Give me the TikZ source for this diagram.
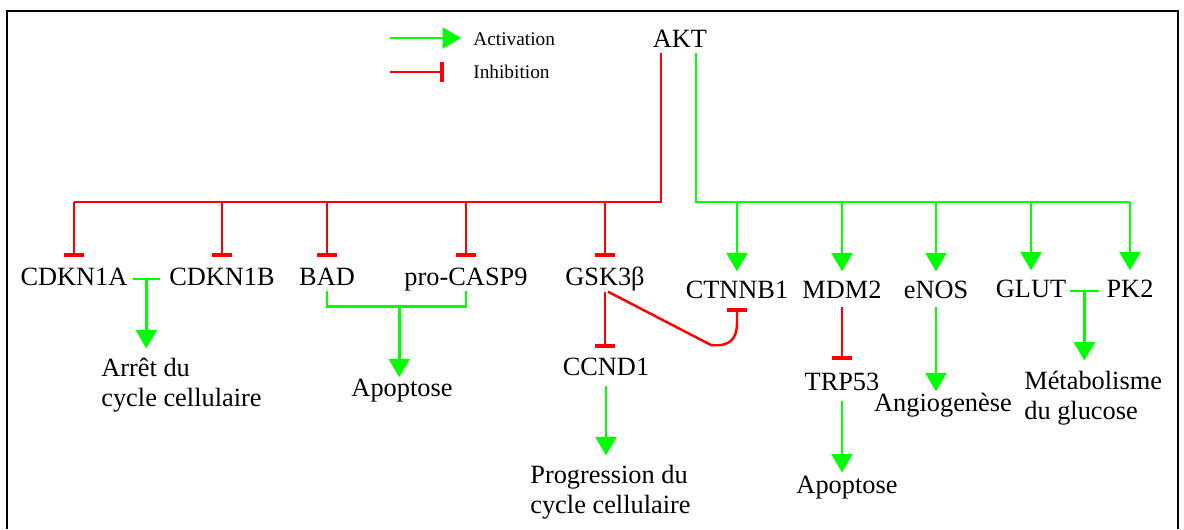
\documentclass[tikz,border=0pt]{standalone}
\usepackage{fontspec}
\setmainfont{Liberation Serif}
\usepackage{xcolor}
\definecolor{actgreen}{RGB}{0,255,0}
\definecolor{inhred}{RGB}{255,0,0}
\usepackage{tikz}
\usetikzlibrary{arrows.meta, positioning, calc}
\tikzset{
  gene/.style={font=\fontsize{15}{17}\selectfont, inner sep=0pt,
    text height=10pt, text depth=3pt, anchor=base},
  outcome/.style={font=\fontsize{15}{17}\selectfont, inner sep=0pt,
    align=left, anchor=north west},
  legtext/.style={font=\fontsize{11}{13}\selectfont, inner sep=0pt, anchor=west},
  grline/.style={draw=actgreen, line width=1.4pt},
  rdline/.style={draw=inhred, line width=1.4pt},
  act/.style={grline, -{Triangle[length=10.5pt, width=12pt]}, shorten >=5pt},
  inh/.style={rdline, -{Bar[width=11pt, line width=2.2pt]}, shorten >=6pt}
}

\begin{document}
\begin{tikzpicture}[x=0.02cm, y=-0.02cm]
  \useasboundingbox (0,0) rectangle (1184,529);
  \draw[line width=1.5pt] (7,529) -- (7,11) -- (1178,11) -- (1178,529);

  % legend
  \coordinate (actfrom) at (390,38);
  \coordinate (actto) at (461,38);
  \coordinate (inhfrom) at (390,72);
  \coordinate (inhto) at (444,72);
  \draw[act, shorten >=0pt] (actfrom) -- (actto);
  \draw[inh, shorten >=0pt] (inhfrom) -- (inhto);
  \node[legtext] (actlab) at (473,39) {Activation};
  \node[legtext] (inhlab) at (473,72) {Inhibition};

  % genes
  \node[gene] (akt) at (680,47) {AKT};
  \node[gene] (cdkn1a) at (74,285) {CDKN1A};
  \node[gene] (cdkn1b) at (222,285) {CDKN1B};
  \node[gene] (bad) at (327,285) {BAD};
  \node[gene] (casp9) at (466,285) {pro-CASP9};
  \node[gene] (gsk3b) at (605,285) {GSK3β};
  \node[gene] (ctnnb1) at (737,298) {CTNNB1};
  \node[gene] (mdm2) at (842,298) {MDM2};
  \node[gene] (enos) at (936,298) {eNOS};
  \node[gene] (glut) at (1031,297) {GLUT};
  \node[gene] (pk2) at (1130,297) {PK2};
  \node[gene] (ccnd1) at (606,375) {CCND1};
  \node[gene] (trp53) at (842,390) {TRP53};

  % outcomes
  \node[outcome] (arret) at (101,358) {Arrêt du\\cycle cellulaire};
  \node[gene] (apop1) at (402,396) {Apoptose};
  \node[outcome] (prog) at (530,465) {Progression du\\cycle cellulaire};
  \node[gene] (apop2) at (847,493) {Apoptose};
  \node[gene] (angio) at (943,411) {Angiogenèse};
  \node[outcome] (metab) at (1024,371) {Métabolisme\\du glucose};

  % AKT buses
  \coordinate (rbus) at (661,202);
  \coordinate (gbus) at (696,202);
  \draw[rdline] (akt.south -| rbus) -- (rbus) -- (cdkn1a |- rbus);
  \draw[grline] (akt.south -| gbus) -- (gbus) -- (pk2 |- gbus);
  \foreach \g in {cdkn1a,cdkn1b,bad,casp9,gsk3b}
    \draw[inh] (\g |- rbus) -- (\g.north);
  \foreach \g in {ctnnb1,mdm2,enos,glut,pk2}
    \draw[act] (\g |- gbus) -- (\g.north);

  % CDKN1A / CDKN1B
  \coordinate (cdkj) at ($(cdkn1a.east)!0.45!(cdkn1b.west)$);
  \draw[grline, shorten <=3pt, shorten >=5pt] (cdkn1a.east) -- (cdkn1b.west);
  \draw[act, shorten >=5.5pt] (cdkj) -- (cdkj |- arret.north);

  % BAD / pro-CASP9
  \coordinate (apj) at ($(bad.south)!0.52!(casp9.south)+(0,16)$);
  \draw[grline] (bad.south) |- (apj) -| (casp9.south);
  \draw[act, shorten >=0.5pt] (apj) -- (apj |- apop1.north);

  % GSK3b
  \draw[inh, shorten <=1pt, shorten >=5pt] (gsk3b.south) -- (gsk3b.south |- ccnd1.north);
  \draw[inh, shorten >=2.3pt] ($(gsk3b.south)+(3,1)$) -- (711,345)
    .. controls (731,347) and (737,338) .. ($(ctnnb1.south)+(0,19)$)
    -- (ctnnb1.south);
  \draw[act, shorten <=3pt, shorten >=5.5pt] (ccnd1.south) -- (ccnd1.south |- prog.north);

  % MDM2 / TRP53
  \draw[inh, shorten <=2pt, shorten >=7pt] (mdm2.south) -- (mdm2.south |- trp53.north);
  \draw[act, shorten <=3pt, shorten >=1.5pt] (trp53.south) -- (trp53.south |- apop2.north);

  % eNOS
  \draw[act, shorten <=2pt, shorten >=1pt] (enos.south) -- (enos.south |- angio.north);

  % GLUT / PK2
  \coordinate (glj) at ($(glut.east)!0.45!(pk2.west)$);
  \draw[grline, shorten <=2pt, shorten >=4pt] (glut.east) -- (pk2.west);
  \draw[act, shorten >=6pt] (glj) -- (glj |- metab.north);
\end{tikzpicture}
\end{document}
